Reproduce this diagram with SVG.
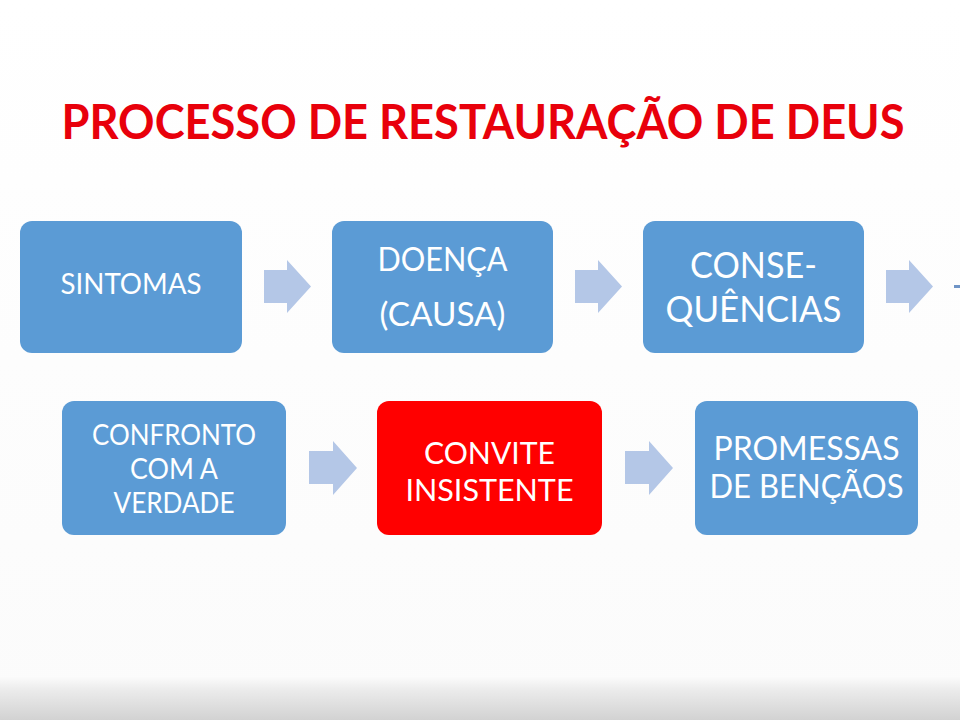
<svg xmlns="http://www.w3.org/2000/svg" width="960" height="720" viewBox="0 0 960 720">
  <defs>
    <linearGradient id="bg" x1="0" y1="0" x2="0" y2="1">
      <stop offset="0" stop-color="#ffffff"/>
      <stop offset="1" stop-color="#fbfbfb"/>
    </linearGradient>
    <linearGradient id="band" x1="0" y1="0" x2="0" y2="1">
      <stop offset="0" stop-color="#fcfcfc"/>
      <stop offset="0.3" stop-color="#ececec"/>
      <stop offset="1" stop-color="#d2d2d2"/>
    </linearGradient>
  </defs>
  <style>
    .box { fill: #5b9bd5; }
    .hot { fill: #ff0000; }
    .arrow { fill: #b4c7e7; }
    .t { font-family: Lato, "Open Sans", "Liberation Sans", sans-serif; fill: #ffffff; text-anchor: middle; }
    .title { font-family: Lato, "Open Sans", "Liberation Sans", sans-serif; font-weight: bold; fill: #e8000b; text-anchor: middle; }
  </style>

  <rect x="0" y="0" width="960" height="720" fill="url(#bg)"/>
  <rect x="0" y="676" width="960" height="44" fill="url(#band)"/>

  <text class="title" x="483" y="139" font-size="48" textLength="843" lengthAdjust="spacingAndGlyphs">PROCESSO DE RESTAURAÇÃO DE DEUS</text>

  <g id="connectors">
    <polygon class="arrow" points="264,270 287,270 287,260 311,286.5 287,313 287,303 264,303"/>
    <polygon class="arrow" points="575,270 598,270 598,260 622,286.5 598,313 598,303 575,303"/>
    <polygon class="arrow" points="886,270 909,270 909,260 933,286.5 909,313 909,303 886,303"/>
    <rect x="954" y="285" width="6" height="3" fill="#6f94c6"/>
    <polygon class="arrow" points="309,451 333,451 333,441 357,468 333,495 333,484 309,484"/>
    <polygon class="arrow" points="625,451 649,451 649,441 673,468 649,495 649,484 625,484"/>
  </g>

  <g id="sintomas">
    <rect class="box" x="20" y="221" width="222" height="132" rx="12"/>
    <text class="t" x="131" y="294" font-size="29" textLength="141" lengthAdjust="spacingAndGlyphs">SINTOMAS</text>
  </g>

  <g id="doenca">
    <rect class="box" x="332" y="221" width="221" height="132" rx="12"/>
    <text class="t" x="442.5" y="271" font-size="33" textLength="130" lengthAdjust="spacingAndGlyphs">DOENÇA</text>
    <text class="t" x="442.5" y="326" font-size="33" textLength="126" lengthAdjust="spacingAndGlyphs">(CAUSA)</text>
  </g>

  <g id="consequencias">
    <rect class="box" x="643" y="221" width="221" height="132" rx="12"/>
    <text class="t" x="753.5" y="278" font-size="37" textLength="127" lengthAdjust="spacingAndGlyphs">CONSE-</text>
    <text class="t" x="753.5" y="322" font-size="37" textLength="176" lengthAdjust="spacingAndGlyphs">QUÊNCIAS</text>
  </g>

  <g id="confronto">
    <rect class="box" x="62" y="401" width="224" height="134" rx="12"/>
    <text class="t" x="174" y="445" font-size="28" textLength="164" lengthAdjust="spacingAndGlyphs">CONFRONTO</text>
    <text class="t" x="174" y="479" font-size="28" textLength="88" lengthAdjust="spacingAndGlyphs">COM A</text>
    <text class="t" x="174" y="513" font-size="28" textLength="121" lengthAdjust="spacingAndGlyphs">VERDADE</text>
  </g>

  <g id="convite">
    <rect class="hot" x="377" y="401" width="225" height="134" rx="12"/>
    <text class="t" x="489.5" y="464" font-size="31" textLength="131" lengthAdjust="spacingAndGlyphs">CONVITE</text>
    <text class="t" x="489.5" y="501" font-size="31" textLength="168" lengthAdjust="spacingAndGlyphs">INSISTENTE</text>
  </g>

  <g id="promessas">
    <rect class="box" x="695" y="401" width="223" height="134" rx="12"/>
    <text class="t" x="806.5" y="460" font-size="32" textLength="186" lengthAdjust="spacingAndGlyphs">PROMESSAS</text>
    <text class="t" x="806.5" y="498" font-size="32" textLength="194" lengthAdjust="spacingAndGlyphs">DE BENÇÃOS</text>
  </g>
</svg>
